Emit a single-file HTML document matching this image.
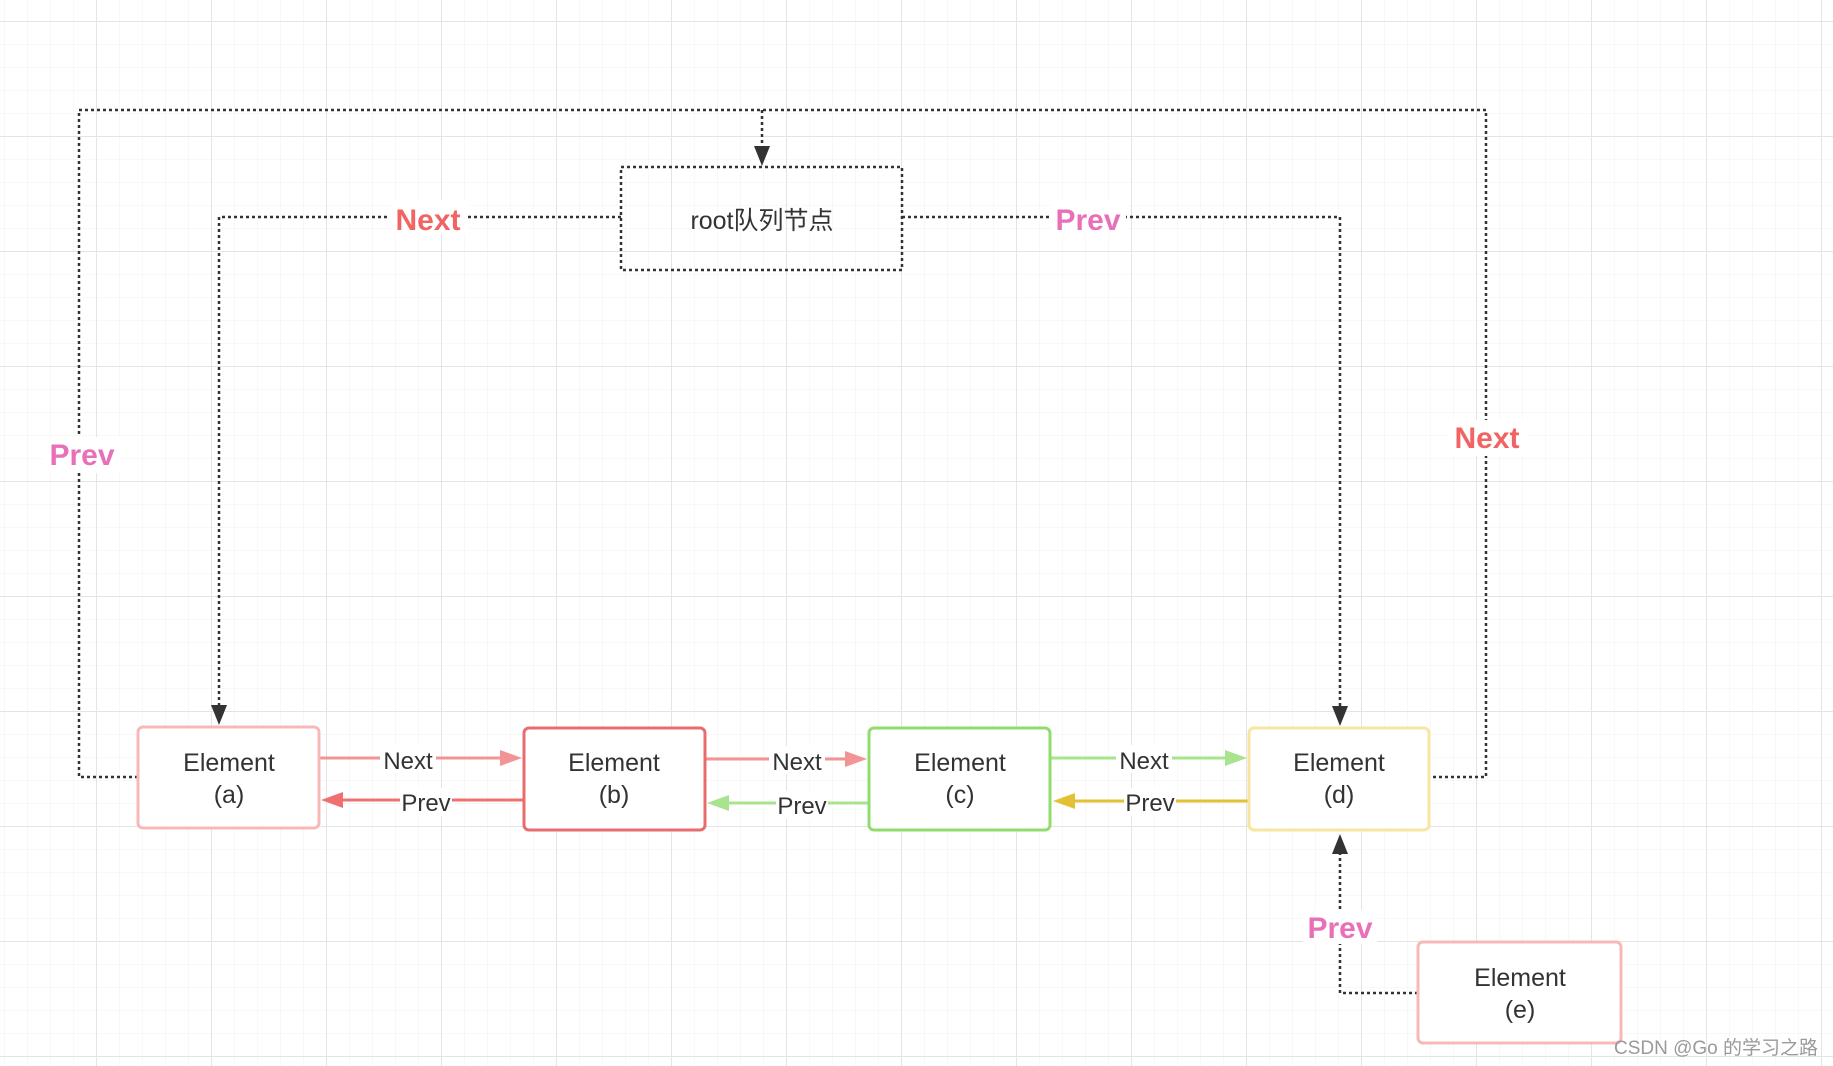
<!DOCTYPE html>
<html><head><meta charset="utf-8"><style>
html,body{margin:0;padding:0;background:#fff;}
svg{display:block;}
</style></head><body>
<svg width="1833" height="1066" viewBox="0 0 1833 1066" xmlns="http://www.w3.org/2000/svg" font-family="Liberation Sans, Noto Sans CJK SC, sans-serif">
<defs>
<pattern id="minor" x="4" y="-2" width="23" height="23" patternUnits="userSpaceOnUse">
<path d="M0 0H23M0 0V23" stroke="#f2f2f2" stroke-width="1" fill="none"/>
</pattern>
<pattern id="major" x="96" y="21" width="115" height="115" patternUnits="userSpaceOnUse">
<path d="M0 0H115M0 0V115" stroke="#e4e4e4" stroke-width="2" fill="none"/>
</pattern>
</defs>
<rect width="1833" height="1066" fill="#fff"/>
<rect width="1833" height="1066" fill="url(#minor)"/>
<rect width="1833" height="1066" fill="url(#major)"/>

<g fill="none" stroke="#333" stroke-width="2.5" stroke-dasharray="3,3">
<!-- outer loop -->
<polyline points="138,777 79,777 79,110 1486,110 1486,777 1429,777"/>
<line x1="762" y1="110" x2="762" y2="150"/>
<!-- root box -->
<rect x="621" y="167" width="281" height="103"/>
<!-- root to a -->
<polyline points="621,217 219,217 219,708"/>
<!-- root to d -->
<polyline points="902,217 1340,217 1340,708"/>
<!-- e to d -->
<polyline points="1418,993 1340,993 1340,852"/>
</g>
<g fill="#333">
<polygon points="754,146 770,146 762,166"/>
<polygon points="211,705 227,705 219,725"/>
<polygon points="1332,706 1348,706 1340,726"/>
<polygon points="1332,854 1348,854 1340,834"/>
</g>

<!-- big labels -->
<g font-weight="bold" font-size="30" text-anchor="middle">
<rect x="390" y="200" width="78" height="34" fill="#fff"/>
<text x="428" y="230" fill="#f06464">Next</text>
<rect x="1052" y="200" width="74" height="34" fill="#fff"/>
<text x="1088" y="230" fill="#e870b8">Prev</text>
<rect x="44" y="437" width="76" height="36" fill="#fff"/>
<text x="82" y="465" fill="#e870b8">Prev</text>
<rect x="1448" y="420" width="78" height="36" fill="#fff"/>
<text x="1487" y="448" fill="#f06464">Next</text>
<rect x="1303" y="910" width="74" height="34" fill="#fff"/>
<text x="1340" y="938" fill="#e870b8">Prev</text>
</g>

<!-- element connectors -->
<g stroke-width="3" fill="none">
<line x1="319" y1="758" x2="505" y2="758" stroke="#f29494"/>
<line x1="524" y1="800" x2="338" y2="800" stroke="#ef7070"/>
<line x1="705" y1="759" x2="850" y2="759" stroke="#f29494"/>
<line x1="869" y1="803" x2="724" y2="803" stroke="#a8e38e"/>
<line x1="1050" y1="758" x2="1230" y2="758" stroke="#a8e38e"/>
<line x1="1249" y1="801" x2="1070" y2="801" stroke="#e2c234"/>
</g>
<polygon points="500,750 522,758 500,766" fill="#f29494"/>
<polygon points="343,792 321,800 343,808" fill="#ef7070"/>
<polygon points="845,751 867,759 845,767" fill="#f29494"/>
<polygon points="729,795 707,803 729,811" fill="#a8e38e"/>
<polygon points="1225,750 1247,758 1225,766" fill="#a8e38e"/>
<polygon points="1075,793 1053,801 1075,809" fill="#e2c234"/>

<g font-size="24" fill="#333" text-anchor="middle">
<rect x="380" y="745" width="56" height="28" fill="#fff"/>
<text x="408" y="769">Next</text>
<rect x="400" y="788" width="52" height="28" fill="#fff"/>
<text x="426" y="811">Prev</text>
<rect x="769" y="746" width="56" height="28" fill="#fff"/>
<text x="797" y="770">Next</text>
<rect x="776" y="791" width="52" height="28" fill="#fff"/>
<text x="802" y="814">Prev</text>
<rect x="1116" y="745" width="56" height="28" fill="#fff"/>
<text x="1144" y="769">Next</text>
<rect x="1124" y="788" width="52" height="28" fill="#fff"/>
<text x="1150" y="811">Prev</text>
</g>

<!-- boxes -->
<g fill="#fff" stroke-width="3">
<rect x="138" y="727" width="181" height="101" rx="5" stroke="#f8b8b8"/>
<rect x="524" y="728" width="181" height="102" rx="5" stroke="#e86c6c"/>
<rect x="869" y="728" width="181" height="102" rx="5" stroke="#92dc6e"/>
<rect x="1249" y="728" width="180" height="102" rx="5" stroke="#f6e6a2"/>
<rect x="1418" y="942" width="203" height="101" rx="5" stroke="#f8b8b8"/>
</g>
<g font-size="25" fill="#333" text-anchor="middle">
<text x="762" y="229">root队列节点</text>
<text x="229" y="771">Element</text><text x="229" y="803">(a)</text>
<text x="614" y="771">Element</text><text x="614" y="803">(b)</text>
<text x="960" y="771">Element</text><text x="960" y="803">(c)</text>
<text x="1339" y="771">Element</text><text x="1339" y="803">(d)</text>
<text x="1520" y="986">Element</text><text x="1520" y="1018">(e)</text>
</g>
<text x="1818" y="1054" font-size="19" fill="#9a9a9a" text-anchor="end">CSDN @Go 的学习之路</text>
</svg>
</body></html>
